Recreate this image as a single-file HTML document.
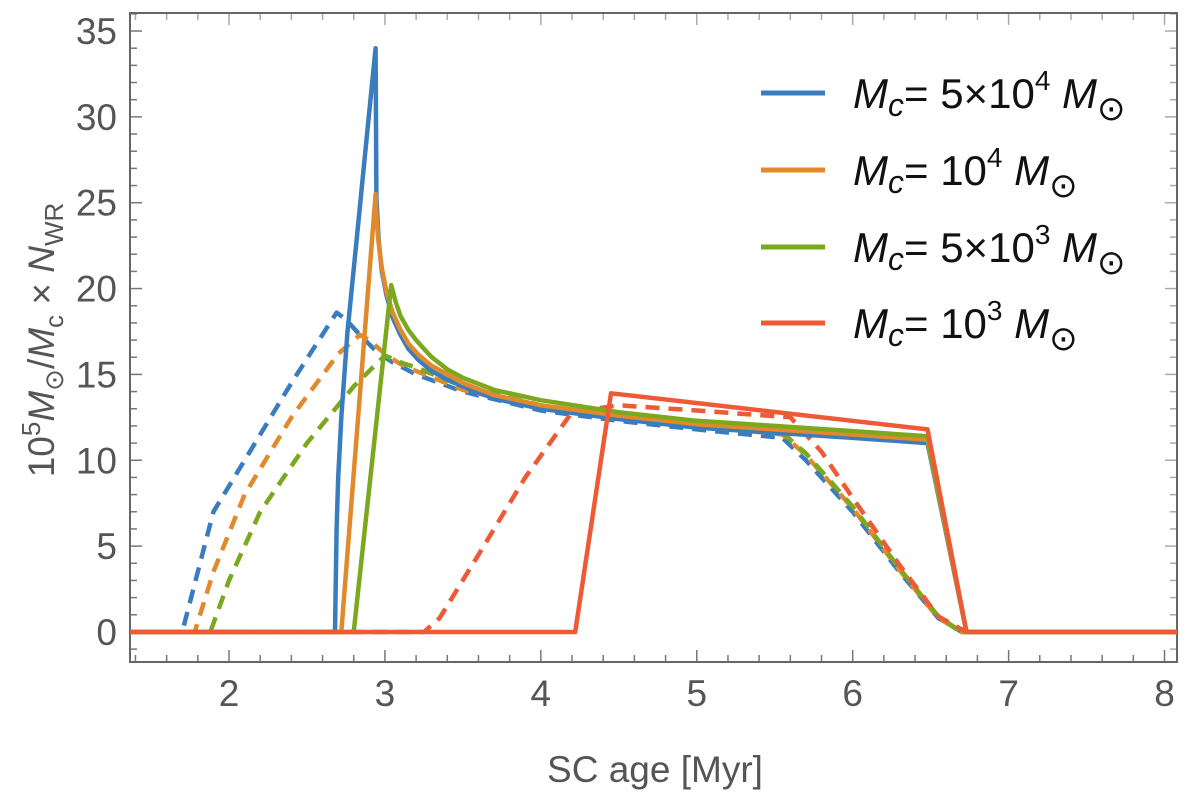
<!DOCTYPE html>
<html><head><meta charset="utf-8"><style>
body{margin:0;background:#fff;}
svg{display:block;font-family:"Liberation Sans",sans-serif;}
</style></head><body>
<svg id="chart" width="1200" height="797"></svg>
<script>
const xTickLabels=[2,3,4,5,6,7,8];
const yTickLabels=[0,5,10,15,20,25,30,35];
const blueSolidX=[1.3,2.68,2.685,2.69,2.70,2.72,2.76,2.82,2.88,2.94,2.945,2.96,2.98,3.01,3.05,3.1,3.15,3.22,3.3,3.4,3.5,3.7,4,4.5,5,5.5,6,6.48,6.73,8.2];
const blueSolidY=[0,0,3,6,9,12.5,17.5,23,28.5,34,25.3,22.8,21,19.6,18.3,17.3,16.5,15.8,15.2,14.7,14.3,13.6,13.0,12.4,11.9,11.6,11.3,11.0,0,0];
const orangeSolidX=[1.3,2.72,2.94,2.945,2.96,2.98,3.01,3.05,3.1,3.15,3.22,3.3,3.4,3.5,3.7,4,4.5,5,5.5,6,6.48,6.73,8.2];
const orangeSolidY=[0,0,25.5,24.2,22.6,21.2,19.8,18.6,17.6,16.8,16.1,15.5,15.0,14.5,13.8,13.2,12.6,12.1,11.8,11.5,11.2,0,0];
const greenSolidX=[1.3,2.8,3.04,3.07,3.1,3.15,3.2,3.25,3.3,3.4,3.5,3.7,4,4.5,5,5.5,6,6.48,6.73,8.2];
const greenSolidY=[0,0,20.2,19.2,18.4,17.6,17,16.5,16.0,15.3,14.8,14.1,13.5,12.8,12.3,12.0,11.7,11.4,0,0];
const redSolidX=[1.3,4.22,4.45,6.48,6.73,8.2];
const redSolidY=[0,0,13.9,11.8,0,0];
const blueDashX=[1.3,1.7,1.8,1.9,2.1,2.4,2.69,2.75,2.85,2.95,3.05,3.2,3.5,4,4.5,5,5.55,5.7,6.0,6.3,6.55,6.7,8.2];
const blueDashY=[0,0,3.5,7,10,14.5,18.6,18.2,17.2,16.3,15.7,15.0,14.0,12.9,12.3,11.8,11.3,10,7,3.5,0.8,0,0];
const orangeDashX=[1.3,1.78,1.9,2.1,2.4,2.7,2.84,2.9,3.0,3.1,3.2,3.5,4,4.5,5,5.55,5.7,6.0,6.3,6.55,6.7,8.2];
const orangeDashY=[0,0,3.5,8,12.5,16.2,17.3,17.0,16.2,15.6,15.2,14.1,13.0,12.5,12.0,11.5,10.3,7.2,3.6,0.8,0,0];
const greenDashX=[1.3,1.88,2.0,2.2,2.5,2.8,3.0,3.1,3.2,3.5,4,4.5,5,5.55,5.7,6.0,6.3,6.55,6.7,8.2];
const greenDashY=[0,0,3,7,11,14.3,16.1,15.7,15.4,14.3,13.2,12.6,12.1,11.6,10.4,7.3,3.7,0.9,0,0];
const redDashX=[1.3,3.25,3.35,3.6,3.9,4.2,4.5,5,5.6,5.8,6.0,6.3,6.55,6.73,8.2];
const redDashY=[0,0,0.8,4.5,9,12.8,13.2,12.9,12.5,10.5,7.8,3.9,0.9,0,0];

const L=130,R=1177,T=13,B=662,xMin=1.365,xMax=8.08,yMin=-1.75,yMax=36.05;
const sx=v=>L+(v-xMin)/(xMax-xMin)*(R-L);
const sy=v=>B-(v-yMin)/(yMax-yMin)*(B-T);
const svg=document.getElementById('chart');
const NS='http://www.w3.org/2000/svg';
function mk(tag,attrs){const e=document.createElementNS(NS,tag);for(const k in attrs)e.setAttribute(k,attrs[k]);svg.appendChild(e);return e;}

const clip=document.createElementNS(NS,'clipPath');clip.setAttribute('id','pc');
const cr=document.createElementNS(NS,'rect');cr.setAttribute('x',L);cr.setAttribute('y',T);cr.setAttribute('width',R-L);cr.setAttribute('height',B-T);
clip.appendChild(cr);svg.appendChild(clip);

for(let i=Math.ceil(xMin*5);i<=Math.floor(xMax*5);i++){
  const v=i/5,x=sx(v),maj=(i%5===0),len=maj?12:7;
  const t1=mk('line',{x1:x,x2:x,y1:B,y2:B-len,stroke:'#777','stroke-width':1.5});
  
  const t2=mk('line',{x1:x,x2:x,y1:T,y2:T+len,stroke:'#aaa','stroke-width':1.5});
  
}
for(let v=-1;v<=36;v++){
  const y=sy(v),maj=(v%5===0),len=maj?12:7;
  const t1=mk('line',{x1:L,x2:L+len,y1:y,y2:y,stroke:'#777','stroke-width':1.5});
  
  const t2=mk('line',{x1:R,x2:R-len,y1:y,y2:y,stroke:'#aaa','stroke-width':1.5});
  
}
xTickLabels.forEach(v=>{
  const t=mk('text',{x:sx(v),y:706,'text-anchor':'middle','font-size':37,fill:'#555'});
  t.textContent=v;
  
});
yTickLabels.forEach(v=>{
  const t=mk('text',{x:117,y:sy(v)+13,'text-anchor':'end','font-size':37,fill:'#555'});
  t.textContent=v;
  
});
const fr=mk('rect',{x:L,y:T,width:R-L,height:B-T,fill:'none',stroke:'#666','stroke-width':2});


function series(xs,ys,color,dash,name){
  const d=xs.map((x,i)=>(i?'L':'M')+sx(x).toFixed(1)+','+sy(ys[i]).toFixed(1)).join('');
  const p=mk('path',{d:d,fill:'none',stroke:color,'stroke-width':4.5,'stroke-dasharray':dash?'14 9':'none','clip-path':'url(#pc)','stroke-linejoin':'round'});
  
}
const cB='#3a7dbf',cO='#e08a2c',cG='#7ca81e',cR='#ee5a35';
series(blueDashX,blueDashY,cB,true,'blue-dashed-line');
series(orangeDashX,orangeDashY,cO,true,'orange-dashed-line');
series(greenDashX,greenDashY,cG,true,'green-dashed-line');
series(redDashX,redDashY,cR,true,'red-dashed-line');
series(blueSolidX,blueSolidY,cB,false,'blue-solid-line');
series(orangeSolidX,orangeSolidY,cO,false,'orange-solid-line');
series(greenSolidX,greenSolidY,cG,false,'green-solid-line');
series(redSolidX,redSolidY,cR,false,'red-solid-line');

const leg=[[cB,'5\u00d710','4'],[cO,'10','4'],[cG,'5\u00d710','3'],[cR,'10','3']];
const legY=[93,170,247,323];
leg.forEach((e,i)=>{
  const y=legY[i];
  const l=mk('line',{x1:761,x2:825,y1:y,y2:y,stroke:e[0],'stroke-width':5});
  
  const t=mk('text',{x:853,y:y+15,'font-size':42,fill:'#111'});
  
  t.innerHTML='<tspan font-style="italic">M</tspan><tspan font-style="italic" font-size="32" dy="8">c</tspan><tspan dy="-8">= '+e[1]+'</tspan><tspan font-size="28" dy="-18">'+e[2]+'</tspan><tspan dy="18" font-style="italic">  M</tspan><tspan font-size="34" dy="12">\u2299</tspan>';
});

const xt=mk('text',{x:655,y:782,'text-anchor':'middle','font-size':37,fill:'#555'});
xt.textContent='SC age [Myr]';

const yt=mk('text',{x:0,y:0,'text-anchor':'middle','font-size':37,fill:'#555',transform:'translate(54,340) rotate(-90)'});

yt.innerHTML='10<tspan font-size="26" dy="-14">5</tspan><tspan dy="14" font-style="italic">M</tspan><tspan font-size="26" dy="9">\u2299</tspan><tspan dy="-9">/</tspan><tspan font-style="italic">M</tspan><tspan font-size="26" dy="9">c</tspan><tspan dy="-9"> \u00d7 </tspan><tspan font-style="italic">N</tspan><tspan font-size="26" dy="9">WR</tspan>';
</script>
</body></html>
